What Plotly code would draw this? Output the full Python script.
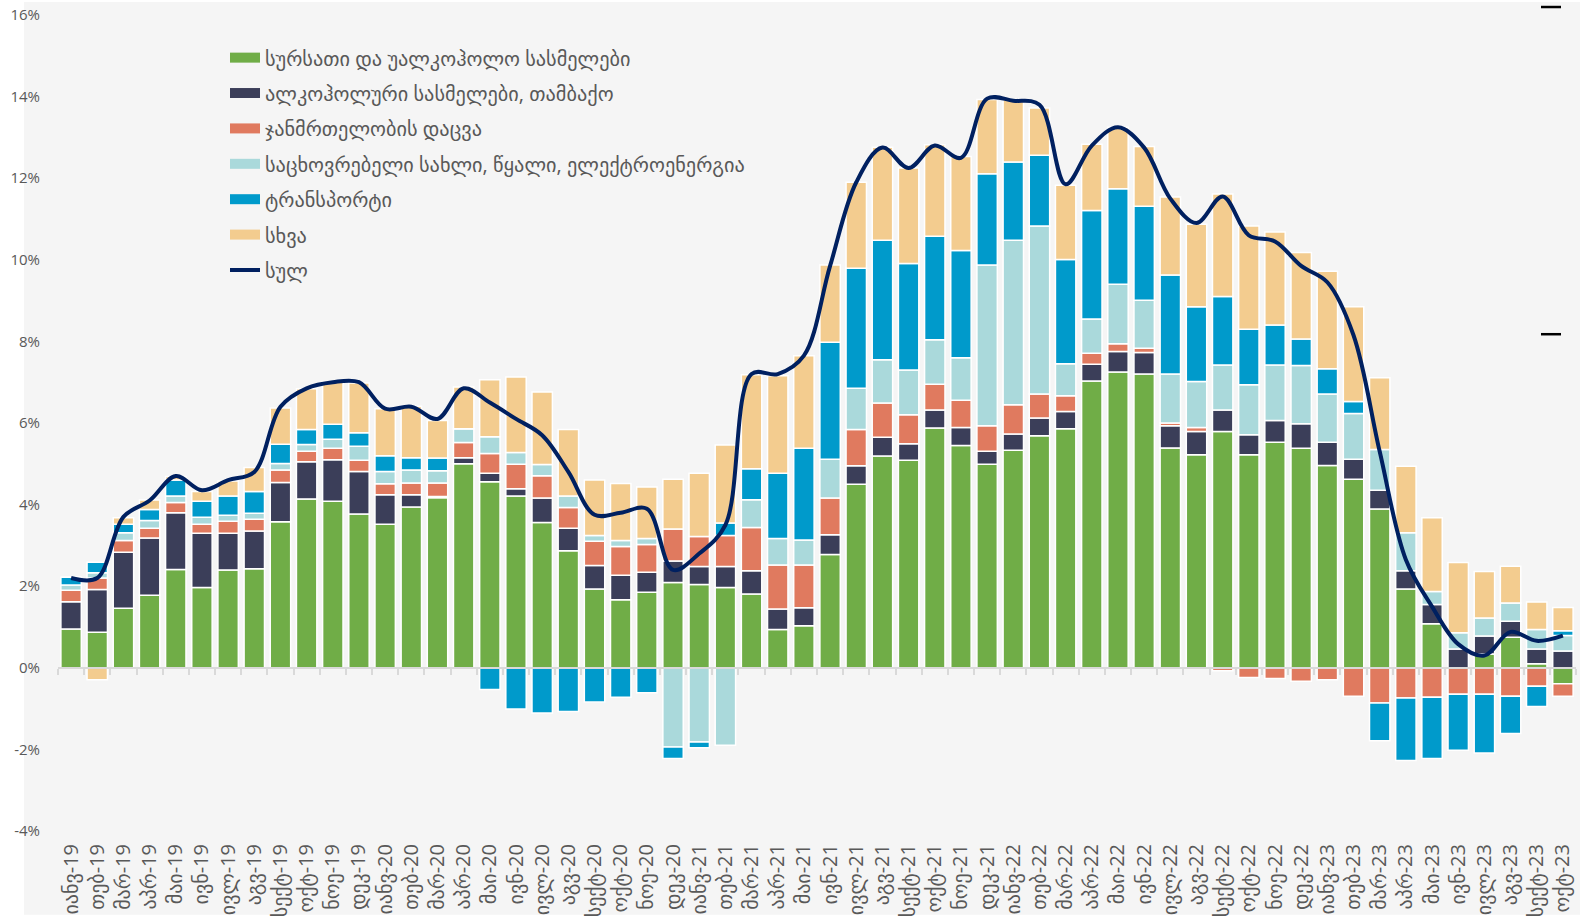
import plotly.graph_objects as go

months = [
    "იანვ-19", "თებ-19", "მარ-19", "აპრ-19", "მაი-19", "ივნ-19", "ივლ-19", "აგვ-19", "სექტ-19", "ოქტ-19", "ნოე-19", "დეკ-19",
    "იანვ-20", "თებ-20", "მარ-20", "აპრ-20", "მაი-20", "ივნ-20", "ივლ-20", "აგვ-20", "სექტ-20", "ოქტ-20", "ნოე-20", "დეკ-20",
    "იანვ-21", "თებ-21", "მარ-21", "აპრ-21", "მაი-21", "ივნ-21", "ივლ-21", "აგვ-21", "სექტ-21", "ოქტ-21", "ნოე-21", "დეკ-21",
    "იანვ-22", "თებ-22", "მარ-22", "აპრ-22", "მაი-22", "ივნ-22", "ივლ-22", "აგვ-22", "სექტ-22", "ოქტ-22", "ნოე-22", "დეკ-22",
    "იანვ-23", "თებ-23", "მარ-23", "აპრ-23", "მაი-23", "ივნ-23", "ივლ-23", "აგვ-23", "სექტ-23", "ოქტ-23",
]

food = [0.95, 0.87, 1.46, 1.78, 2.41, 1.97, 2.40, 2.43, 3.58, 4.14, 4.08, 3.77,
        3.52, 3.94, 4.17, 5.00, 4.56, 4.21, 3.56, 2.87, 1.93, 1.67, 1.85, 2.09,
        2.04, 1.97, 1.81, 0.94, 1.03, 2.78, 4.50, 5.19, 5.09, 5.88, 5.45, 4.99,
        5.33, 5.69, 5.86, 7.03, 7.25, 7.20, 5.39, 5.22, 5.79, 5.22, 5.53, 5.38,
        4.96, 4.62, 3.89, 1.93, 1.08, 0.00, 0.34, 0.75, 0.10, -0.39]
alcohol = [0.67, 1.05, 1.37, 1.40, 1.39, 1.33, 0.90, 0.92, 0.96, 0.91, 1.02, 1.04,
           0.72, 0.30, 0.03, 0.15, 0.21, 0.18, 0.60, 0.55, 0.58, 0.60, 0.49, 0.53,
           0.44, 0.51, 0.57, 0.50, 0.44, 0.48, 0.45, 0.46, 0.40, 0.44, 0.44, 0.32,
           0.40, 0.43, 0.42, 0.41, 0.50, 0.53, 0.54, 0.57, 0.53, 0.49, 0.53, 0.60,
           0.57, 0.49, 0.46, 0.45, 0.47, 0.46, 0.44, 0.39, 0.36, 0.41]
health = [0.28, 0.28, 0.29, 0.24, 0.25, 0.22, 0.29, 0.29, 0.31, 0.26, 0.28, 0.28,
          0.27, 0.29, 0.33, 0.37, 0.48, 0.60, 0.55, 0.51, 0.59, 0.70, 0.68, 0.78,
          0.74, 0.76, 1.06, 1.08, 1.05, 0.90, 0.89, 0.84, 0.71, 0.63, 0.67, 0.62,
          0.72, 0.59, 0.39, 0.27, 0.19, 0.10, 0.07, 0.10, -0.07, -0.24, -0.26, -0.33,
          -0.29, -0.70, -0.86, -0.74, -0.72, -0.65, -0.65, -0.70, -0.45, -0.31]
housing = [0.13, 0.13, 0.19, 0.19, 0.16, 0.17, 0.15, 0.15, 0.16, 0.16, 0.22, 0.34,
           0.30, 0.32, 0.30, 0.34, 0.41, 0.29, 0.27, 0.28, 0.14, 0.15, 0.15, -1.94,
           -1.82, -1.90, 0.68, 0.65, 0.61, 0.95, 1.01, 1.06, 1.10, 1.09, 1.04, 3.94,
           4.03, 4.12, 0.78, 0.84, 1.46, 1.18, 1.20, 1.13, 1.10, 1.23, 1.36, 1.43,
           1.18, 1.12, 1.00, 0.93, 0.32, 0.40, 0.44, 0.45, 0.48, 0.38]
transport = [0.19, 0.26, 0.21, 0.27, 0.39, 0.39, 0.47, 0.53, 0.47, 0.37, 0.37, 0.33,
             0.39, 0.30, 0.31, 0.00, -0.53, -1.01, -1.11, -1.07, -0.84, -0.72, -0.61, -0.28,
             -0.14, 0.31, 0.76, 1.60, 2.25, 2.87, 2.94, 2.93, 2.61, 2.54, 2.63, 2.24,
             1.92, 1.73, 2.56, 2.66, 2.34, 2.30, 2.43, 1.83, 1.68, 1.36, 0.98, 0.65,
             0.62, 0.30, -0.93, -1.53, -1.50, -1.37, -1.44, -0.91, -0.50, 0.12]
other = [0.00, -0.29, 0.16, 0.23, 0.09, 0.24, 0.37, 0.59, 0.89, 1.00, 1.05, 1.22,
         1.15, 1.26, 0.92, 1.02, 1.40, 1.85, 1.78, 1.63, 1.36, 1.40, 1.26, 1.22,
         1.55, 1.91, 2.30, 2.39, 2.27, 1.89, 2.11, 2.28, 2.34, 2.24, 2.30, 1.82,
         1.53, 1.16, 1.82, 1.62, 1.51, 1.47, 1.91, 2.02, 2.51, 2.53, 2.28, 2.12,
         2.39, 2.32, 1.76, 1.63, 1.81, 1.72, 1.14, 0.90, 0.67, 0.57]
total = [2.2, 2.2, 3.7, 4.1, 4.7, 4.35, 4.6, 4.8, 6.4, 6.85, 7.0, 7.0,
         6.35, 6.4, 6.1, 6.85, 6.5, 6.1, 5.7, 4.8, 3.75, 3.8, 3.9, 2.4,
         2.8, 3.5, 7.2, 7.2, 7.65, 9.85, 11.9, 12.75, 12.25, 12.8, 12.5, 13.95,
         13.9, 13.8, 11.85, 12.8, 13.25, 12.75, 11.5, 10.9, 11.55, 10.6, 10.45, 9.85,
         9.45, 8.15, 5.3, 2.65, 1.5, 0.58, 0.3, 0.88, 0.66, 0.79]

series_names = [
    "სურსათი და უალკოჰოლო სასმელები",
    "ალკოჰოლური სასმელები, თამბაქო",
    "ჯანმრთელობის დაცვა",
    "საცხოვრებელი სახლი, წყალი, ელექტროენერგია",
    "ტრანსპორტი",
    "სხვა",
]
total_name = "სულ"
series_values = [food, alcohol, health, housing, transport, other]
colors = ["#70AD47", "#3B3E59", "#E07A5F", "#AAD9DB", "#009ACB", "#F3CC8F"]
line_color = "#002060"

ytick_vals = [-4, -2, 0, 2, 4, 6, 8, 10, 12, 14, 16]
ytick_text = ["-4%", "-2%", "0%", "2%", "4%", "6%", "8%", "10%", "12%", "14%", "16%"]

TXT = "#595959"
FONT = "Open Sans, DejaVu Sans, sans-serif"

fig = go.Figure()

# legend entries (wide swatches)
for k, (nm, c) in enumerate(zip(series_names, colors)):
    fig.add_trace(go.Scatter(x=[None], y=[None], mode="lines", name=nm,
                             line=dict(color=c, width=10), legendgroup=f"g{k}",
                             hoverinfo="skip"))

for nm, vals, c in zip(series_names, series_values, colors):
    fig.add_trace(go.Bar(x=months, y=vals, name=nm, showlegend=False,
                         marker=dict(color=c, line=dict(color="white", width=1.5))))

fig.add_trace(go.Scatter(x=months, y=total, name=total_name, mode="lines",
                         xaxis="x2", legendgroup="g6",
                         line=dict(color=line_color, width=4, shape="spline", smoothing=1.0)))

L, R, T, B = 58, 4, 13, 89
W, H = 1580, 920
pw, ph = W - L - R, H - T - B

def px_x(p):
    return (p - L) / pw

def px_y(p):
    return (H - B - p) / ph

shapes = [
    dict(type="rect", xref="paper", yref="paper", x0=px_x(24), x1=px_x(1580),
         y0=px_y(915), y1=px_y(0), fillcolor="#F5F5F5", line=dict(width=0), layer="below"),
    dict(type="line", xref="paper", yref="paper", x0=px_x(1541), x1=px_x(1561),
         y0=px_y(5), y1=px_y(5), line=dict(color="black", width=2.5)),
    dict(type="line", xref="paper", yref="paper", x0=px_x(1541), x1=px_x(1561),
         y0=px_y(333), y1=px_y(333), line=dict(color="black", width=2.5)),
]

fig.update_layout(
    width=W, height=H,
    margin=dict(l=L, r=R, t=T, b=B, pad=0),
    paper_bgcolor="white",
    plot_bgcolor="rgba(0,0,0,0)",
    barmode="relative",
    bargap=0.22,
    font=dict(family=FONT, color=TXT, size=15),
    shapes=shapes,
    showlegend=True,
    legend=dict(x=px_x(225), y=px_y(36), xanchor="left", yanchor="top",
                bgcolor="rgba(0,0,0,0)", font=dict(size=20.3, color=TXT, family=FONT),
                traceorder="grouped", tracegroupgap=6),
    xaxis=dict(type="category", showgrid=False, showline=False, zeroline=False,
               ticks="", tickangle=-90, tickfont=dict(size=20, color=TXT, family=FONT),
               ticklabelstandoff=8, automargin=False),
    xaxis2=dict(type="category", overlaying="x", matches="x", anchor="free",
                position=0.2, showgrid=False, showline=True, linecolor="#D9D9D9",
                linewidth=2, ticks="outside", ticklen=6, tickwidth=1.5,
                tickcolor="#D9D9D9", tickson="boundaries", showticklabels=False,
                zeroline=False),
    yaxis=dict(range=[-4, 16], tickvals=ytick_vals, ticktext=ytick_text,
               showgrid=False, zeroline=False, showline=False, ticks="",
               tickfont=dict(size=15, color=TXT), ticklabelstandoff=17),
)

fig.write_html("out.html", include_plotlyjs=True, config={"displayModeBar": False},
               post_script="document.body.style.margin='0';document.body.style.overflow='hidden';")
